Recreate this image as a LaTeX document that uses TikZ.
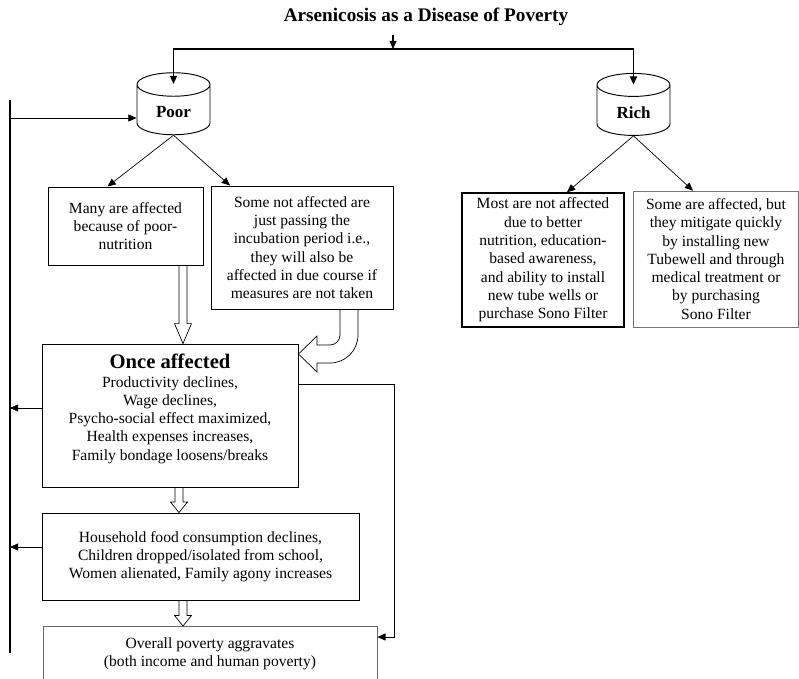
\documentclass[tikz,border=0pt]{standalone}
\usepackage{fontspec}
\setmainfont{Liberation Serif}
\usetikzlibrary{arrows.meta,calc,shapes.geometric}

\newlength\pxu
\setlength\pxu{0.03cm}
\newcommand\bodyfont{\fontsize{13.3}{15.6}\selectfont}
\newcommand\titlefont{\fontsize{16.4}{19}\selectfont\bfseries}
\newcommand\drumfont{\fontsize{14.5}{17}\selectfont\bfseries}
\newcommand\oncefont{\fontsize{17.6}{20}\selectfont\bfseries}

% hollow block arrow between two boxes: x, upper node, lower node, head length
\newcommand{\hollowdown}[4]{%
  \draw[hollow] let \p1=(#2.south), \p2=(#3.north) in
    (#1-4,\y1) -- (#1-4,\y2+#4) -- (#1-8.5,\y2+#4) -- (#1,\y2)
    -- (#1+8.5,\y2+#4) -- (#1+4,\y2+#4) -- (#1+4,\y1);
}

\tikzset{
  box/.style={draw, line width=0.8pt, align=center, font=\bodyfont, inner sep=2pt},
  drum/.style={cylinder, shape border rotate=90, aspect=0.55, draw, line width=0.8pt,
    minimum width=73\pxu, minimum height=62\pxu, font=\drumfont},
  arr/.style={-{Triangle[length=7pt,width=6pt]}, line width=0.6pt},
  hollow/.style={draw, line width=0.6pt},
}

\begin{document}
\begin{tikzpicture}[x=0.03cm, y=-0.03cm]
\useasboundingbox (0,0) rectangle (799,679);

% title and the two groups
\node[font=\titlefont] (title) at (426,17) {Arsenicosis as a Disease of Poverty};
\node[drum] (poor) at (173.5,112.5) {Poor};
\node[drum] (rich) at (633.5,113) {Rich};

% poor side
\node[box, minimum width=155\pxu, minimum height=78\pxu] (many) at (125.5,226)
  {Many are affected\\because of poor-\\nutrition};
\node[box, minimum width=182\pxu, minimum height=123\pxu] (some) at (302,247.5)
  {Some not affected are\\just passing the\\incubation period i.e.,\\they will also be\\affected in due course if\\measures are not taken};
\node[box, minimum width=256\pxu, minimum height=143\pxu, text depth=14pt] (once) at (170,415.5)
  {{\oncefont Once affected}\\Productivity declines,\\Wage declines,\\Psycho-social effect maximized,\\Health expenses increases,\\Family bondage loosens/breaks};
\node[box, minimum width=317\pxu, minimum height=87\pxu] (house) at (200.5,556.5)
  {Household food consumption declines,\\Children dropped/isolated from school,\\Women alienated, Family agony increases};
\node[box, draw=black!60, line width=0.6pt, minimum width=334\pxu, inner ysep=9.5pt,
  anchor=north, text depth=60pt] (overall) at (210,626)
  {Overall poverty aggravates\\(both income and human poverty)};

% rich side
\node[box, line width=1.3pt, minimum width=162\pxu, minimum height=134\pxu] (richa) at (543,260)
  {Most are not affected\\due to better\\nutrition, education-\\based awareness,\\and ability to install\\new tube wells or\\purchase Sono Filter};
\node[box, draw=black!55, line width=0.5pt, minimum width=165\pxu, minimum height=136\pxu] (richb) at (716,259)
  {Some are affected, but\\they mitigate quickly\\by installing new\\Tubewell and through\\medical treatment or\\by purchasing\\Sono Filter};

% top split
\coordinate (split) at (393,49);
\draw[arr, line width=1pt, shorten <=4pt] (title.south -| split) -- (split);
\draw[arr, line width=1.5pt] (split) -| ([yshift=-10pt]poor.north);
\draw[arr, line width=1.5pt] (split) -| ([yshift=-10pt]rich.north);

% branches
\draw[arr] (poor.south) -- ($(many.north)+(-18,0)$);
\draw[arr] (poor.south) -- ($(some.north)+(-72,0)$);
\draw[arr] (rich.south) -- ($(richa.north)+(24,0)$);
\draw[arr] (rich.south) -- ($(richb.north)+(-23,0)$);

% hollow arrows
\hollowdown{183}{many}{once}{17pt}
\hollowdown{179}{once}{house}{9pt}
\hollowdown{183}{house}{overall}{9pt}
\draw[hollow] let \p1=(some.south), \p2=(once.east) in
  (340,\y1) -- (340,335) .. controls (340,340.5) and (335.5,345) .. (330,345)
  -- (317,345) -- (317,336) -- (\x2,354) -- (317,372) -- (317,363) -- (330,363)
  .. controls (345.5,363) and (358,350.5) .. (358,335) -- (358,\y1);

% feedback to poor
\coordinate (backtop) at (10,100);
\coordinate (backbot) at (10,653);
\draw[line width=1.5pt] (backtop) -- (backbot);
\coordinate (poorin) at ($(poor.west)+(0,5.5)$);
\coordinate (oncefb) at ($(once.west)+(0,-7.5)$);
\coordinate (housefb) at ($(house.west)+(0,-9.5)$);
\draw[arr] (backtop |- poorin) -- (poorin);
\draw[arr] (oncefb) -- (backtop |- oncefb);
\draw[arr] (housefb) -- (backtop |- housefb);

% once affected straight to overall poverty
\coordinate (onceout) at ($(once.north east)+(0,41)$);
\coordinate (overin) at ($(overall.north east)+(0,11)$);
\draw[arr] (onceout) -| ($(overin)+(17,0)$) -- (overin);
\end{tikzpicture}
\end{document}
